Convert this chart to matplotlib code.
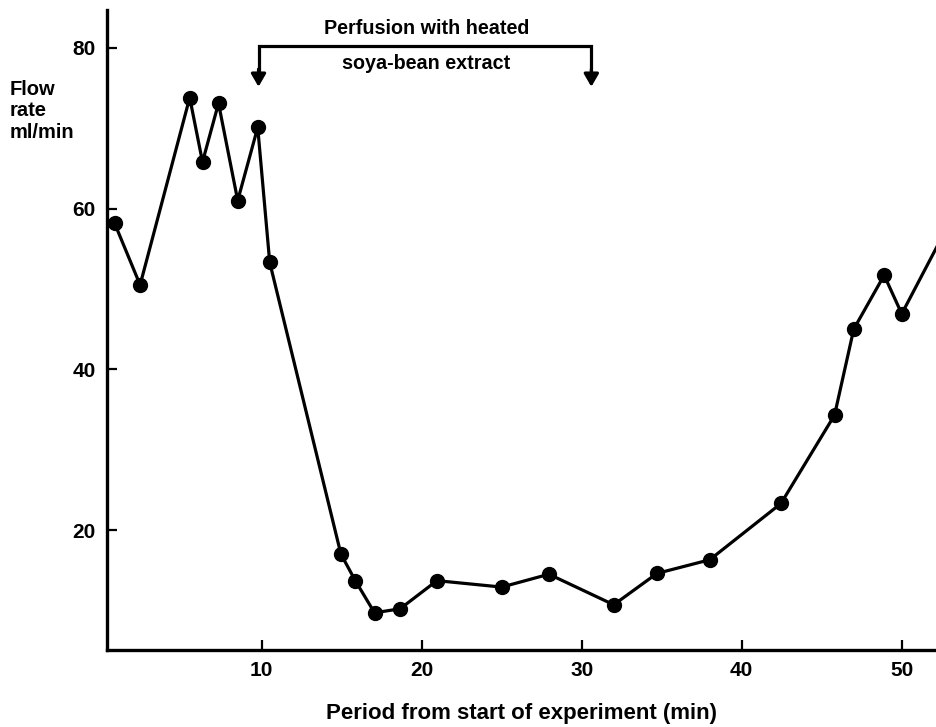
import matplotlib
matplotlib.use("Agg")
import matplotlib.pyplot as plt

# data
minutes = [0.8, 2.4, 5.5, 6.3, 7.3, 8.5, 9.75, 10.5, 14.95, 15.85, 17.05, 18.65,
           20.95, 25.0, 27.95, 32.0, 34.7, 38.0, 42.45, 45.8, 47.0, 48.9, 50.0, 53.0]
flow = [58.2, 50.5, 73.8, 65.8, 73.1, 61.0, 70.1, 53.3, 17.0, 13.7, 9.7, 10.2,
        13.7, 12.9, 14.5, 10.7, 14.6, 16.3, 23.3, 34.3, 45.0, 51.7, 46.9, 58.3]

x_ticks = [10, 20, 30, 40, 50]
y_ticks = [20, 40, 60, 80]

perfusion_start = 9.8
perfusion_end = 30.6
bracket_y = 80.25
arrow_tip_y = 75.15

FONT = "Liberation Sans"
plt.rcParams["font.family"] = [FONT, "DejaVu Sans"]

fig = plt.figure(figsize=(9.36, 7.27), dpi=100)
ax = fig.add_axes([0.1143, 0.1059, 0.8857, 0.8803])

ax.plot(minutes, flow, color="black", lw=2.3, marker="o", markersize=10,
        clip_on=True, zorder=3)

ax.set_xlim(0.33, 52.14)
ax.set_ylim(5.07, 84.7)

ax.set_xticks(x_ticks)
ax.set_yticks(y_ticks)
ax.tick_params(direction="in", length=7, width=1.6, labelsize=15, pad=8)
for lab in ax.get_xticklabels() + ax.get_yticklabels():
    lab.set_fontweight("bold")

for side in ["top", "right"]:
    ax.spines[side].set_visible(False)
for side in ["left", "bottom"]:
    ax.spines[side].set_linewidth(2.4)

# perfusion bracket with arrows
ax.plot([perfusion_start, perfusion_start, perfusion_end, perfusion_end],
        [arrow_tip_y + 2, bracket_y, bracket_y, arrow_tip_y + 2],
        color="black", lw=2.3, solid_joinstyle="miter", clip_on=False)
for xa in [perfusion_start, perfusion_end]:
    ax.annotate("", xy=(xa, arrow_tip_y), xytext=(xa, arrow_tip_y + 2.2),
                arrowprops=dict(arrowstyle="-|>,head_width=0.22,head_length=0.38",
                                mutation_scale=20, color="black", lw=2.3,
                                shrinkA=0, shrinkB=0),
                annotation_clip=False)

mid = (perfusion_start + perfusion_end) / 2
ax.text(mid + 0.1, 82.45, "Perfusion with heated", ha="center", va="center",
        fontsize=14.2, fontweight="bold")
ax.text(mid + 0.1, 78.0, "soya-bean extract", ha="center", va="center",
        fontsize=14.2, fontweight="bold")

fig.text(10 / 936, 1 - 111 / 727, "Flow\nrate\nml/min", ha="left", va="center",
         fontsize=14.5, fontweight="bold", linespacing=1.18)

fig.text(521 / 936, 1 - 714 / 727, "Period from start of experiment (min)",
         ha="center", va="center", fontsize=16, fontweight="bold")

fig.savefig("out.png", dpi=100)
